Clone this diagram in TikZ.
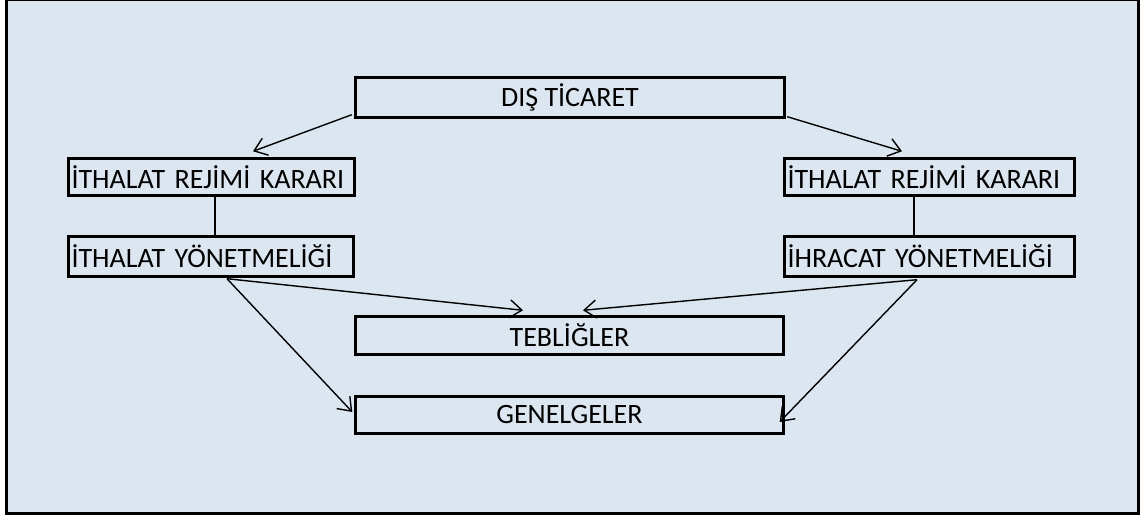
\documentclass[tikz,border=0pt]{standalone}
\usepackage{fontspec}
\setmainfont{Carlito}
\usetikzlibrary{arrows.meta,calc}
\definecolor{panel}{RGB}{220,230,241}
\begin{document}
\begin{tikzpicture}[x=1pt,y=-1pt,
  box/.style={draw=black,line width=3.4pt,fill=panel,inner ysep=0pt,
    font=\fontsize{28}{30}\selectfont},
  midbox/.style={box,inner xsep=0pt,align=center},
  sidebox/.style={box,inner xsep=3pt,align=left},
  link/.style={line width=1.4pt},
  conn/.style={link,-{Straight Barb[length=12pt,width=18pt,line width=1.4pt]}}]
  \useasboundingbox (0,0) rectangle (1140,516);
  % outer panel
  \draw[line width=3pt,fill=panel] (6.5,-0.5) rectangle (1138,513);

  % boxes
  \node[midbox,minimum width=429pt,minimum height=40pt] (dis) at (570,97.5) {DIŞ TİCARET};
  \node[sidebox,text width=280pt,minimum height=37pt] (kl) at (211.5,177) {İTHALAT REJİMİ KARARI};
  \node[sidebox,text width=279pt,minimum height=40pt] (yl) at (211,256.5) {İTHALAT YÖNETMELİĞİ};
  \node[sidebox,text width=284pt,minimum height=37pt] (kr) at (929.5,177) {İTHALAT REJİMİ KARARI};
  \node[sidebox,text width=284pt,minimum height=40pt] (yr) at (929.5,256.5) {İHRACAT YÖNETMELİĞİ};
  \node[midbox,minimum width=428pt,minimum height=38pt] (teb) at (569.5,335.5) {TEBLİĞLER};
  \node[midbox,minimum width=428pt,minimum height=37pt] (gen) at (569.5,415) {GENELGELER};

  % connectors
  \draw[conn] ($(dis.south west)+(-2,-4.5)$) -- ($(kl.north)+(41.5,-5.5)$);
  \draw[conn] ($(dis.south east)+(1,-2.5)$) -- ($(kr.north)+(-27.5,-5.5)$);
  \draw[link] ($(kl.south)+(3.5,0)$) -- ($(yl.north)+(4,0)$);
  \draw[link] ($(kr.south)+(-15.5,0)$) -- ($(yr.north)+(-15.5,0)$);
  \draw[conn] ($(yl.south)+(16,0.5)$) -- ($(teb.north)+(-46.5,-4.5)$);
  \draw[conn] ($(yl.south)+(16,0.5)$) -- ($(gen.west)+(-1.5,-3)$);
  \draw[conn] ($(yr.south)+(-12.5,1.5)$) -- ($(teb.north)+(13.5,-4.5)$);
  \draw[conn] ($(yr.south)+(-12.5,1.5)$) -- ($(gen.east)+(-5.5,7)$);
\end{tikzpicture}
\end{document}
